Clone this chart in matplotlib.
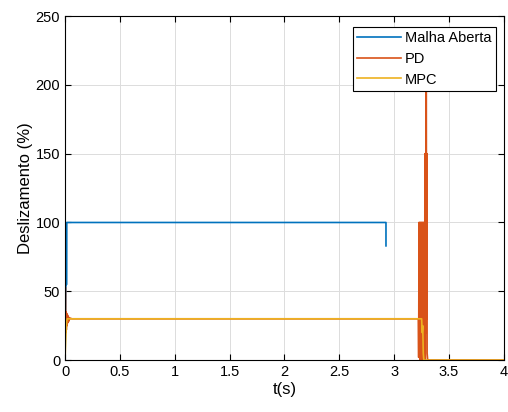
import matplotlib.pyplot as plt

plt.rcParams['font.family'] = ['Liberation Sans', 'DejaVu Sans']

# Malha Aberta (open loop)
t_ma = [0.0, 0.004, 0.008, 0.015, 0.016, 2.925, 2.925]
y_ma = [0.0, 25.0, 55.0, 55.0, 100.0, 100.0, 83.0]

# PD
t_pd = [0.0, 0.003, 0.006, 0.009, 0.012, 0.015, 0.018, 0.021, 0.024, 0.028, 0.032, 0.036,
        0.04, 0.05, 0.06, 3.22,
        3.223, 3.226, 3.229, 3.232, 3.235, 3.238, 3.241, 3.244, 3.247, 3.25,
        3.253, 3.256, 3.259, 3.262, 3.265, 3.268, 3.271, 3.274, 3.277, 3.28,
        3.283, 3.286, 3.289, 3.292, 3.295, 3.298, 3.30, 3.305, 3.31, 4.0]
y_pd = [0.0, 53.0, 20.0, 35.0, 22.0, 34.0, 25.0, 33.0, 27.0, 32.0, 28.0, 31.0,
        29.5, 30.5, 30.0, 30.0,
        2.0, 100.0, 5.0, 100.0, 0.0, 100.0, 3.0, 100.0, 0.0, 100.0,
        2.0, 100.0, 0.0, 100.0, 5.0, 100.0, 0.0, 100.0, 8.0, 150.0,
        0.0, 100.0, 20.0, 225.0, 30.0, 150.0, 5.0, 0.0, 0.0, 0.0]

# MPC
t_mpc = [0.0, 0.005, 0.01, 0.015, 0.02, 0.03, 3.25, 3.255, 3.26, 3.265, 3.27, 4.0]
y_mpc = [0.0, 12.0, 22.0, 28.0, 30.0, 30.0, 30.0, 20.0, 25.0, 5.0, 0.0, 0.0]

fig = plt.figure(figsize=(5.08, 4.12), dpi=100)
ax = fig.add_axes([0.128, 0.126, 0.864, 0.835])

ax.plot(t_ma, y_ma, color='#0072BD', lw=1.2, label='Malha Aberta')
ax.plot(t_pd, y_pd, color='#D95319', lw=1.2, label='PD')
ax.plot(t_mpc, y_mpc, color='#EDB120', lw=1.2, label='MPC')

ax.set_xlim(0, 4)
ax.set_ylim(0, 250)
ax.set_xticks([0, 0.5, 1, 1.5, 2, 2.5, 3, 3.5, 4])
ax.set_xticklabels(['0', '0.5', '1', '1.5', '2', '2.5', '3', '3.5', '4'])
ax.set_yticks([0, 50, 100, 150, 200, 250])
ax.grid(True, color='#dcdcdc', lw=0.7)
ax.set_axisbelow(True)
ax.tick_params(direction='in', top=True, right=True, labelsize=10.5, length=4)
for s in ax.spines.values():
    s.set_linewidth(0.8)

ax.set_xlabel('t(s)', fontsize=12, labelpad=2)
ax.set_ylabel('Deslizamento (%)', fontsize=12, labelpad=2)

leg = ax.legend(loc='upper right', bbox_to_anchor=(0.982, 0.968), fontsize=10.5,
                fancybox=False, framealpha=1, edgecolor='black', borderpad=0.3,
                labelspacing=0.45, handlelength=3.0, handletextpad=0.3, borderaxespad=0)
leg.get_frame().set_linewidth(0.8)

fig.savefig('out.png', dpi=100)
